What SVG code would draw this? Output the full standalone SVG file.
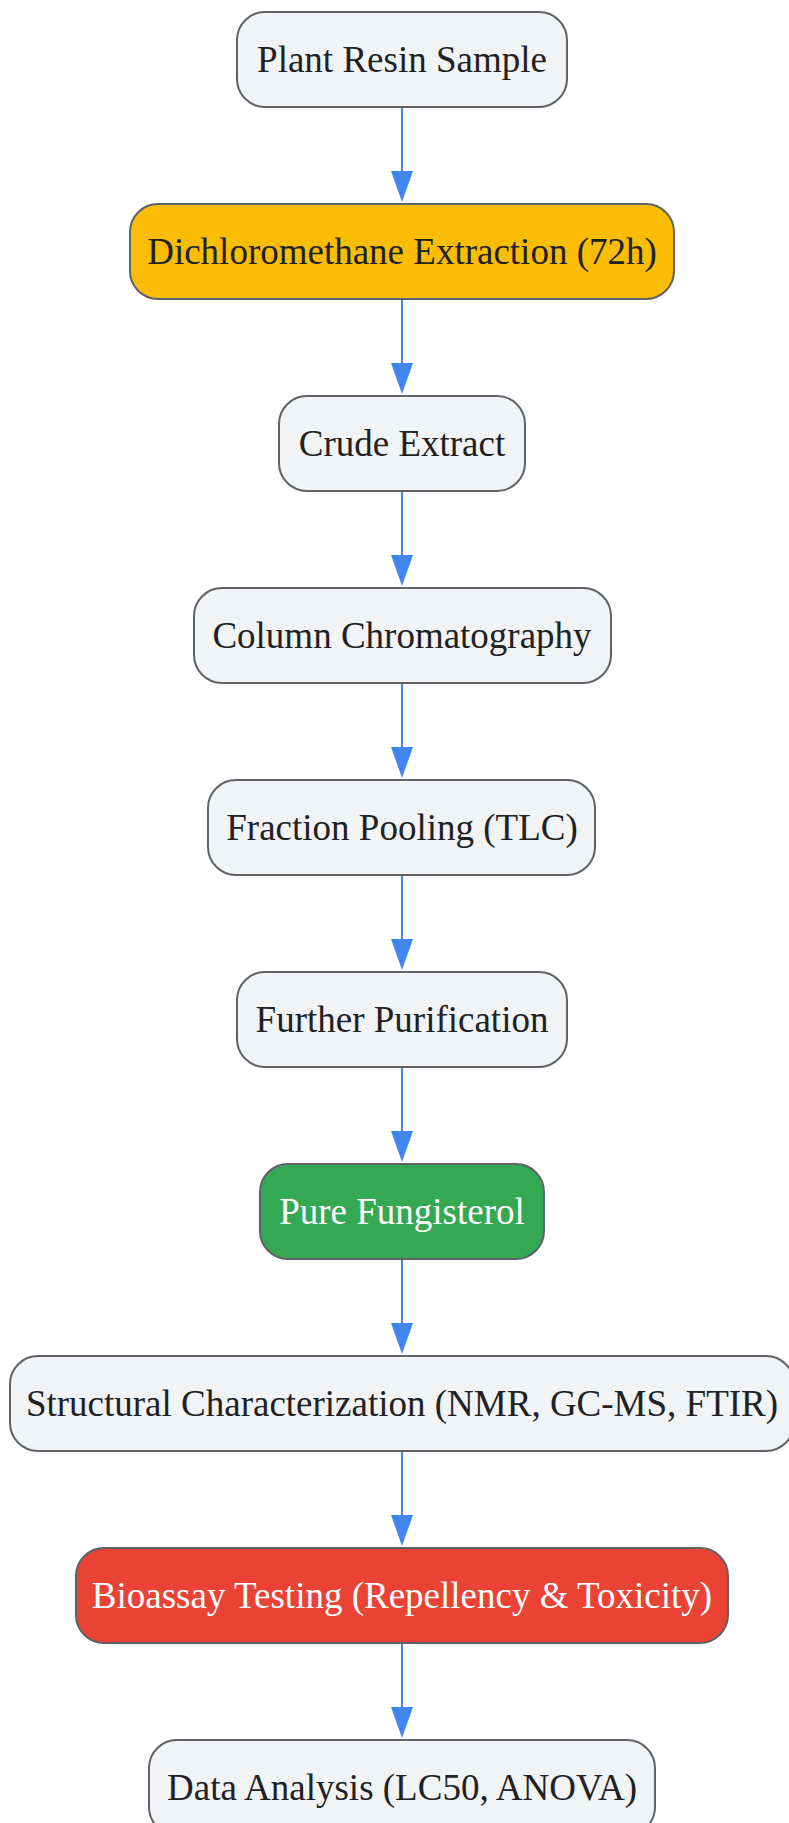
<svg xmlns="http://www.w3.org/2000/svg" width="789" height="1823" viewBox="0 0 789 1823">
<style>
.n{stroke:#5f6368;stroke-width:2}
.g{fill:#f1f3f4}
.y{fill:#fbbc04}
.gr{fill:#34a853}
.r{fill:#ea4335}
.t{font-family:"Liberation Serif","Times New Roman",serif;font-size:37px;text-anchor:middle;fill:#202124}
.w{fill:#ffffff}
.e{stroke:#4285f4;stroke-width:2;fill:none;marker-end:url(#ah)}
</style>
<defs>
<marker id="ah" viewBox="0 0 31 22" refX="1" refY="11" markerWidth="31" markerHeight="22" markerUnits="userSpaceOnUse" orient="auto">
<path d="M0,0 L31,11 L0,22 z" fill="#4285f4"/>
</marker>
</defs>
<rect width="789" height="1823" fill="#ffffff"/>
<g id="connectors">
<path class="e" d="M402,108 L402,172"/>
<path class="e" d="M402,300 L402,364"/>
<path class="e" d="M402,492 L402,556"/>
<path class="e" d="M402,684 L402,748"/>
<path class="e" d="M402,876 L402,940"/>
<path class="e" d="M402,1068 L402,1132"/>
<path class="e" d="M402,1260 L402,1324"/>
<path class="e" d="M402,1452 L402,1516"/>
<path class="e" d="M402,1644 L402,1708"/>
</g>
<g id="n1"><rect class="n g" x="237" y="12" width="330" height="95" rx="28"/><text class="t" x="402" y="72">Plant Resin Sample</text></g>
<g id="n2"><rect class="n y" x="130" y="204" width="544" height="95" rx="28"/><text class="t" x="402" y="264">Dichloromethane Extraction (72h)</text></g>
<g id="n3"><rect class="n g" x="279" y="396" width="246" height="95" rx="28"/><text class="t" x="402" y="456">Crude Extract</text></g>
<g id="n4"><rect class="n g" x="194" y="588" width="417" height="95" rx="28"/><text class="t" x="402" y="648">Column Chromatography</text></g>
<g id="n5"><rect class="n g" x="208" y="780" width="387" height="95" rx="28"/><text class="t" x="402" y="840">Fraction Pooling (TLC)</text></g>
<g id="n6"><rect class="n g" x="237" y="972" width="330" height="95" rx="28"/><text class="t" x="402" y="1032">Further Purification</text></g>
<g id="n7"><rect class="n gr" x="260" y="1164" width="284" height="95" rx="28"/><text class="t w" x="402" y="1224">Pure Fungisterol</text></g>
<g id="n8"><rect class="n g" x="10" y="1356" width="784" height="95" rx="28"/><text class="t" x="402" y="1416">Structural Characterization (NMR, GC-MS, FTIR)</text></g>
<g id="n9"><rect class="n r" x="76" y="1548" width="652" height="95" rx="28"/><text class="t w" x="402" y="1608">Bioassay Testing (Repellency &amp; Toxicity)</text></g>
<g id="n10"><rect class="n g" x="149" y="1740" width="506" height="95" rx="28"/><text class="t" x="402" y="1800">Data Analysis (LC50, ANOVA)</text></g>
</svg>
